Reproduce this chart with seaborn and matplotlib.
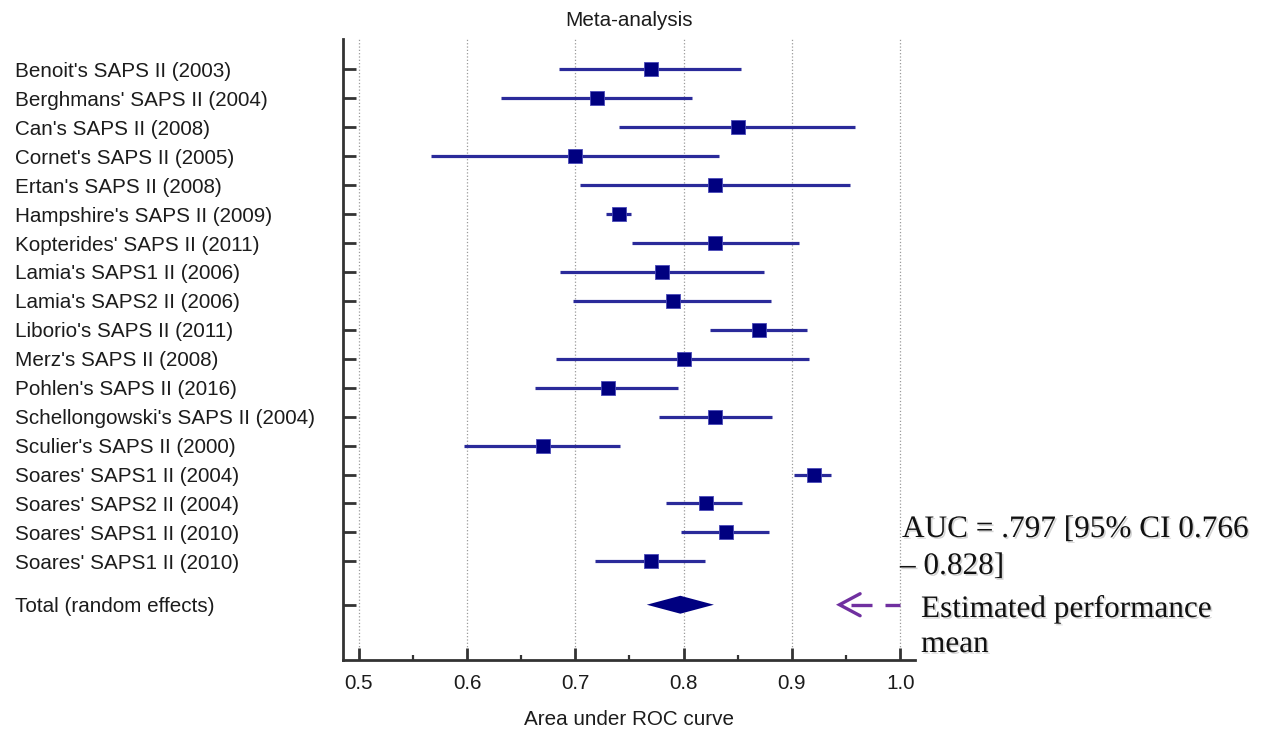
import numpy as np
import pandas as pd
import matplotlib
matplotlib.use("Agg")
import matplotlib.pyplot as plt
import matplotlib.patheffects as pe
from matplotlib.ticker import MultipleLocator
import seaborn as sns

# ---------------- data ----------------
studies = [
    "Benoit's SAPS II (2003)",
    "Berghmans' SAPS II (2004)",
    "Can's SAPS II (2008)",
    "Cornet's SAPS II (2005)",
    "Ertan's SAPS II (2008)",
    "Hampshire's SAPS II (2009)",
    "Kopterides' SAPS II (2011)",
    "Lamia's SAPS1 II (2006)",
    "Lamia's SAPS2 II (2006)",
    "Liborio's SAPS II (2011)",
    "Merz's SAPS II (2008)",
    "Pohlen's SAPS II (2016)",
    "Schellongowski's SAPS II (2004)",
    "Sculier's SAPS II (2000)",
    "Soares' SAPS1 II (2004)",
    "Soares' SAPS2 II (2004)",
    "Soares' SAPS1 II (2010)",
    "Soares' SAPS1 II (2010)",
]
auc = [0.770, 0.720, 0.850, 0.700, 0.829, 0.740, 0.829, 0.780, 0.790,
       0.870, 0.800, 0.730, 0.829, 0.670, 0.920, 0.821, 0.839, 0.770]
ci_low = [0.685, 0.631, 0.740, 0.567, 0.704, 0.728, 0.752, 0.686, 0.698,
          0.824, 0.682, 0.663, 0.777, 0.597, 0.902, 0.784, 0.798, 0.718]
ci_high = [0.853, 0.808, 0.958, 0.833, 0.954, 0.751, 0.907, 0.874, 0.881,
           0.914, 0.916, 0.795, 0.882, 0.741, 0.936, 0.854, 0.879, 0.820]
total_label = "Total (random effects)"
total_auc = 0.797
total_low = 0.766
total_high = 0.828

x_ticks = [0.5, 0.6, 0.7, 0.8, 0.9, 1.0]
x_tick_labels = ["0.5", "0.6", "0.7", "0.8", "0.9", "1.0"]

# ---------------- figure ----------------
W, H = 1268, 732
sns.set_style("white")
plt.rcParams["font.family"] = ["Liberation Sans", "DejaVu Sans"]

fig = plt.figure(figsize=(W / 100, H / 100), dpi=100)
ax = fig.add_axes([343 / W, 1 - 660 / H, (915 - 343) / W, (660 - 39) / H])

ypos = np.arange(len(studies), dtype=float)
total_y = len(studies) - 1 + 1.5

df = pd.DataFrame({"study": studies, "auc": auc, "lo": ci_low,
                   "hi": ci_high, "y": ypos})

navy = "#000080"
line_col = "#2a2a9a"
txt_col = "#1c1c1c"
FS = 14.9

# confidence intervals
ax.hlines(df["y"], df["lo"], df["hi"], color=line_col, lw=2.3, zorder=2)
# point estimates
sns.scatterplot(data=df, x="auc", y="y", marker="s", s=100, color=navy,
                edgecolor="#4a4ab8", linewidth=0.6, zorder=3, ax=ax,
                legend=False)
# pooled diamond
half_h = 0.31
ax.fill([total_low, total_auc, total_high, total_auc],
        [total_y, total_y - half_h, total_y, total_y + half_h],
        color=navy, lw=0, zorder=3)

# axes limits / ticks
ax.set_xlim(0.4855, 1.0137)
ax.set_ylim(20.41, -1.05)
ax.set_xticks(x_ticks)
ax.set_xticklabels(x_tick_labels)
ax.xaxis.set_minor_locator(MultipleLocator(0.05))
ax.set_yticks(list(ypos) + [total_y])
ax.set_yticklabels(studies + [total_label], ha="left")

ax.tick_params(axis="x", which="major", direction="in", length=8.6,
               width=2, color="#333333", labelsize=FS, labelcolor=txt_col,
               pad=10, bottom=True, top=False)
ax.tick_params(axis="x", which="minor", direction="in", length=3.6,
               width=1.6, color="#333333", bottom=True, top=False)
ax.tick_params(axis="y", which="major", direction="in", length=9.4,
               width=2, color="#333333", labelsize=FS, labelcolor=txt_col,
               pad=236.5, left=True, right=False)

for side in ["top", "right"]:
    ax.spines[side].set_visible(False)
for side in ["left", "bottom"]:
    ax.spines[side].set_linewidth(2)
    ax.spines[side].set_color("#333333")

ax.grid(axis="x", which="major", linestyle=":", color="#9a9a9a", lw=0.9)
ax.grid(axis="y", visible=False)
ax.set_axisbelow(True)

ax.set_xlabel("Area under ROC curve", fontsize=FS, color=txt_col,
              labelpad=12)
ax.set_ylabel("")
ax.set_title("Meta-analysis", fontsize=FS, color=txt_col, pad=9)

# ---------------- annotation arrow ----------------
purple = "#7030a0"
arrow_tip = 0.944
arrow_arm = 0.019
arrow_dashes = [(0.955, 0.974), (0.986, 1.0)]
for a, b in arrow_dashes:
    ax.plot([a, b], [total_y, total_y], color=purple, lw=2.4,
            solid_capstyle="butt", zorder=4, clip_on=False)
ax.plot([arrow_tip + arrow_arm, arrow_tip, arrow_tip + arrow_arm],
        [total_y - 0.38, total_y, total_y + 0.38], color=purple, lw=2.4,
        solid_joinstyle="miter", zorder=4, clip_on=False)

# ---------------- side texts ----------------
shadow = [pe.withSimplePatchShadow(offset=(1.2, -1.2),
                                   shadow_rgbFace="#888888", alpha=0.35)]
serif = ["Liberation Serif", "DejaVu Serif"]
side_texts = [
    ("AUC = .797 [95% CI 0.766", 902, 537),
    ("\u2013 0.828]", 900, 574),
    ("Estimated performance", 921, 617),
    ("mean", 921, 652),
]
for s, px, py in side_texts:
    fig.text(px / W, 1 - py / H, s, family=serif, fontsize=22.5,
             color="#111111", va="baseline", ha="left", path_effects=shadow)

fig.savefig("out.png", dpi=100)
